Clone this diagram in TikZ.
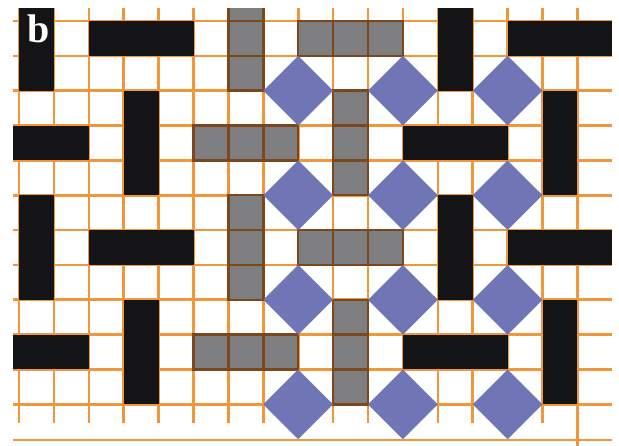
\documentclass[tikz,border=0pt]{standalone}
\usepackage{fontspec}
\newfontfamily\tagfont{Liberation Serif}
\usetikzlibrary{positioning}
\definecolor{gridorange}{RGB}{242,150,58}
\definecolor{barblack}{RGB}{20,20,22}
\definecolor{cellgray}{RGB}{126,126,128}
\definecolor{cellbrown}{RGB}{122,72,28}
\definecolor{tileblue}{RGB}{112,117,182}

\begin{document}
\begin{tikzpicture}[
    x=1pt, y=-1pt,
    % Styles
    gridline/.style={draw=gridorange, line width=2.6pt},
    blackbar/.style={fill=barblack},
    graycell/.style={fill=cellgray, draw=cellbrown, line width=2.4pt},
    diamondtile/.style={fill=tileblue},
    tag/.style={font=\tagfont\fontsize{40}{40}\selectfont\bfseries, text=white, inner sep=0pt},
]
\useasboundingbox[fill=white] (0,0) rectangle (619,446);

\begin{scope}[shift={(19,21)}, x=34.9pt, y=-34.85pt]
\clip (-0.17,-0.37) rectangle (17,12.3);

% === GRID ===
\foreach \c in {0,...,16}
    \draw[gridline] (\c,-0.37) -- (\c,11.53);
\draw[gridline] (16,11.53) -- (16,12.3);
\foreach \r in {0,...,11}
    \draw[gridline] (-0.17,\r) -- (16.99,\r);
\draw[gridline] (-0.17,12.02) -- (16.99,12.02);

% === GRAY CELLS (centre) ===
\foreach \dy in {0,6} {
    \foreach \k in {0,1,2} {
        \draw[graycell] (6,\dy-1+\k) rectangle ++(1,1);
        \draw[graycell] (8+\k,\dy) rectangle ++(1,1);
        \draw[graycell] (9,\dy+2+\k) rectangle ++(1,1);
        \draw[graycell] (5+\k,\dy+3) rectangle ++(1,1);
    }
}

% === BLACK BARS (left and right) ===
\foreach \dx in {0,12} {
    \foreach \dy in {0,6} {
        \fill[blackbar] (\dx,\dy-1) rectangle ++(1,3);
        \fill[blackbar] (\dx+2,\dy) rectangle ++(3,1);
        \fill[blackbar] (\dx+3,\dy+2) rectangle ++(1,3);
        \fill[blackbar] (\dx-1,\dy+3) rectangle ++(3,1);
    }
}

% === BLUE DIAMONDS ===
\foreach \c in {8,11,14} {
    \foreach \r in {2,5,8,11} {
        \fill[diamondtile] (\c-1,\r) -- (\c,\r-1) -- (\c+1,\r) -- (\c,\r+1) -- cycle;
    }
}
\end{scope}

% Panel label
\node[tag] (panel) at (38.5,29) {b};

\end{tikzpicture}
\end{document}
